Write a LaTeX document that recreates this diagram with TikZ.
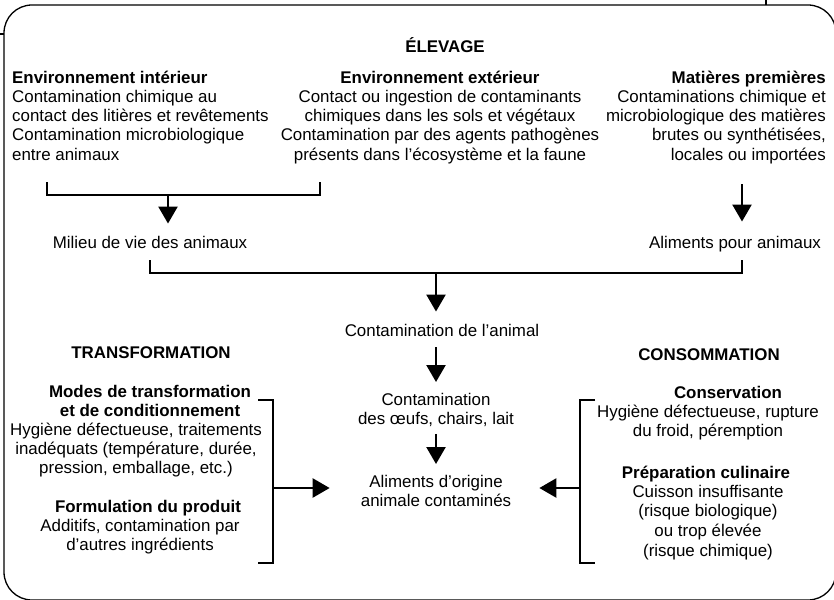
\documentclass[tikz,border=0pt]{standalone}
\usepackage{fontspec}
\setmainfont{Liberation Sans}
\usetikzlibrary{arrows.meta}
\newcommand\bodyfont{\fontsize{16.9pt}{19.2pt}\selectfont}
\newcommand\looserfont{\fontsize{16.9pt}{19.6pt}\selectfont}
\newcommand\firstln{\rule{0pt}{14pt}}

\begin{document}
\begin{tikzpicture}[x=1pt,y=-1pt,
  txt/.style={inner sep=0pt, font=\bodyfont},
  frame/.style={line width=1.3pt, rounded corners=28pt},
  brk/.style={line width=2.4pt},
  arr/.style={line width=2.4pt, -{Triangle[length=17pt,width=19pt]}},
]
\useasboundingbox (0,0) rectangle (834,599);

% outer frame and its small ticks
\begin{scope}
  \clip (0,0) rectangle (834,599);
  \draw[frame] (4,5) rectangle (836,600);
  \draw[line width=1.3pt] (0,34) -- (4,34);
  \draw[line width=1.3pt] (766,0) -- (766,5);
\end{scope}

% ---------------- ÉLEVAGE ----------------
\node[txt, font=\bodyfont\bfseries, anchor=base] (elev) at (445,53) {ÉLEVAGE};

\node[txt, align=left, anchor=north west] (envint) at (12,69)
  {\firstln\textbf{Environnement intérieur}\\
   Contamination chimique au\\
   contact des litières et revêtements\\
   Contamination microbiologique\\
   entre animaux};

\node[txt, align=center, anchor=north] (envext) at (440,69)
  {\firstln\textbf{Environnement extérieur}\\
   Contact ou ingestion de contaminants\\
   chimiques dans les sols et végétaux\\
   Contamination par des agents pathogènes\\
   présents dans l’écosystème et la faune};

\node[txt, align=right, anchor=north east] (matp) at (826,69)
  {\firstln\textbf{Matières premières}\\
   Contaminations chimique et\\
   microbiologique des matières\\
   brutes ou synthétisées,\\
   locales ou importées};

\node[txt, anchor=base] (milieu) at (150,248) {Milieu de vie des animaux};
\node[txt, anchor=base] (alim) at (735,248) {Aliments pour animaux};

% bracket joining the two environments
\coordinate (b1l) at (47,182);
\coordinate (b1r) at (320,182);
\coordinate (b1m) at (168,195);
\draw[brk] (b1l) -- (b1l |- b1m) -- (b1r |- b1m) -- (b1r);
\draw[arr, shorten >=12pt] (b1m) -- (b1m |- milieu.north);

% raw materials to feed
\coordinate (a1) at (742,184);
\draw[arr, shorten >=14pt] (a1) -- (a1 |- alim.north);

% bracket joining living environment and feed
\coordinate (b2l) at (150,260);
\coordinate (b2r) at (742,260);
\coordinate (b2m) at (436,273);
\draw[brk] (b2l) -- (b2l |- b2m) -- (b2r |- b2m) -- (b2r);

% ---------------- central chain ----------------
\node[txt, anchor=base] (anim) at (442,336) {Contamination de l’animal};
\node[txt, align=center, anchor=north] (prod) at (436,391)
  {\firstln Contamination\\des œufs, chairs, lait};
\node[txt, align=center, anchor=north] (aliorig) at (436,473)
  {\firstln Aliments d’origine\\animale contaminés};

\draw[arr, shorten >=12pt] (b2m) -- (b2m |- anim.north);
\draw[arr, shorten <=11pt, shorten >=9pt] (anim.south -| b2m) -- (b2m |- prod.north);
\draw[arr, shorten <=7pt, shorten >=9pt] (prod.south -| b2m) -- (b2m |- aliorig.north);

% ---------------- TRANSFORMATION ----------------
\node[txt, font=\bodyfont\bfseries, anchor=base] (transf) at (151,358) {TRANSFORMATION};
\node[txt, font=\bodyfont\bfseries, align=center, anchor=north] (modes) at (150,383)
  {\firstln Modes de transformation\\et de conditionnement};
\node[txt, align=center, anchor=north] (modestxt) at (136,421)
  {\firstln Hygiène défectueuse, traitements\\
   inadéquats (température, durée,\\
   pression, emballage, etc.)};
\node[txt, font=\bodyfont\bfseries, anchor=base] (formu) at (148,512) {Formulation du produit};
\node[txt, align=center, anchor=north] (formutxt) at (140,517)
  {\firstln Additifs, contamination par\\d’autres ingrédients};

\coordinate (tt) at (273,400);
\coordinate (tb) at (273,563);
\coordinate (tm) at (273,488);
\draw[brk] ([xshift=-15pt]tt) -- (tt) -- (tb) -- ([xshift=-15pt]tb);
\draw[arr, shorten >=31pt] (tm) -- (tm -| aliorig.west);

% ---------------- CONSOMMATION ----------------
\node[txt, font=\bodyfont\bfseries, anchor=base] (conso) at (709,360) {CONSOMMATION};
\node[txt, font=\bodyfont\bfseries, anchor=base] (conserv) at (728,398) {Conservation};
\node[txt, font=\looserfont, align=center, anchor=north] (conservtxt) at (708,403)
  {\firstln Hygiène défectueuse, rupture\\du froid, péremption};
\node[txt, font=\bodyfont\bfseries, anchor=base] (prep) at (706,478) {Préparation culinaire};
\node[txt, font=\looserfont, align=center, anchor=north] (preptxt) at (708,483)
  {\firstln Cuisson insuffisante\\(risque biologique)\\ou trop élevée\\(risque chimique)};

\coordinate (ct) at (580,400);
\coordinate (cb) at (580,563);
\coordinate (cm) at (580,488);
\draw[brk] ([xshift=15pt]ct) -- (ct) -- (cb) -- ([xshift=15pt]cb);
\draw[arr, shorten >=28pt] (cm) -- (cm -| aliorig.east);
\end{tikzpicture}
\end{document}
